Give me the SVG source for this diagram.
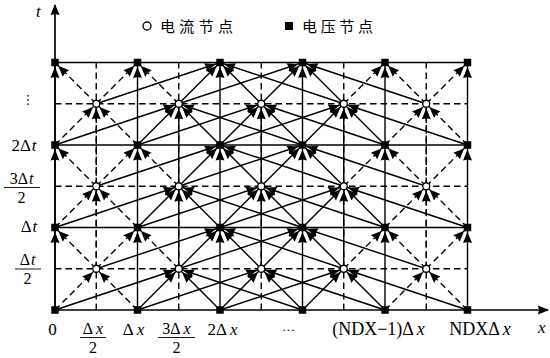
<svg xmlns="http://www.w3.org/2000/svg" width="550" height="358" viewBox="0 0 550 358">
<style>
.s{stroke:#000;stroke-width:1.4;fill:none;marker-end:url(#ah)}
.d{stroke:#000;stroke-width:1.4;fill:none;stroke-dasharray:6.5,4;marker-end:url(#ah)}
.gd{stroke:#000;stroke-width:1.4;fill:none;stroke-dasharray:6.5,4}
.gs{stroke:#000;stroke-width:1.4;fill:none}
.ax{stroke:#000;stroke-width:1.7;fill:none;marker-end:url(#axh)}
.v{fill:#000}
.i{fill:#fff;stroke:#000;stroke-width:1.3}
.m{font-family:"Liberation Serif","DejaVu Serif",serif;font-size:17px;fill:#000}
.f{font-size:16px}
.it{font-style:italic}
.cn{font-family:"Noto Sans CJK SC",sans-serif;font-size:15px;fill:#000}
</style>
<defs>
<marker id="ah" viewBox="0 0 11 9" markerWidth="11" markerHeight="9" refX="15.5" refY="4.5" orient="auto" markerUnits="userSpaceOnUse" overflow="visible">
<path d="M0,0 L11,4.5 L0,9 L1,4.5 z" fill="#000"/>
</marker>
<marker id="axh" viewBox="0 0 11 9" markerWidth="11" markerHeight="9" refX="10" refY="4.5" orient="auto" markerUnits="userSpaceOnUse" overflow="visible">
<path d="M0,0 L11,4.5 L0,9 L1,4.5 z" fill="#000"/>
</marker>
</defs>
<g id="grid">
<line class="gd" x1="55" y1="268.75" x2="467.5" y2="268.75"/>
<line class="gd" x1="55" y1="186.25" x2="467.5" y2="186.25"/>
<line class="gd" x1="55" y1="103.75" x2="467.5" y2="103.75"/>
<line class="gd" x1="96.25" y1="310" x2="96.25" y2="62.5"/>
<line class="gd" x1="178.75" y1="310" x2="178.75" y2="62.5"/>
<line class="gd" x1="261.25" y1="310" x2="261.25" y2="62.5"/>
<line class="gd" x1="343.75" y1="310" x2="343.75" y2="62.5"/>
<line class="gd" x1="426.25" y1="310" x2="426.25" y2="62.5"/>
<line class="gs" x1="55" y1="227.5" x2="467.5" y2="227.5"/>
<line class="gs" x1="55" y1="145" x2="467.5" y2="145"/>
<line class="gs" x1="55" y1="62.5" x2="467.5" y2="62.5"/>
</g>
<g id="axes">
<line class="ax" x1="55" y1="310" x2="55" y2="5"/>
<line class="ax" x1="55" y1="310" x2="548" y2="310"/>
</g>
<g id="connectors">
<line class="d" x1="55" y1="310" x2="96.25" y2="268.75"/>
<line class="d" x1="137.5" y1="310" x2="96.25" y2="268.75"/>
<line class="s" x1="55" y1="310" x2="178.75" y2="268.75"/>
<line class="s" x1="137.5" y1="310" x2="178.75" y2="268.75"/>
<line class="s" x1="220" y1="310" x2="178.75" y2="268.75"/>
<line class="s" x1="302.5" y1="310" x2="178.75" y2="268.75"/>
<line class="s" x1="137.5" y1="310" x2="261.25" y2="268.75"/>
<line class="s" x1="220" y1="310" x2="261.25" y2="268.75"/>
<line class="s" x1="302.5" y1="310" x2="261.25" y2="268.75"/>
<line class="s" x1="385" y1="310" x2="261.25" y2="268.75"/>
<line class="s" x1="220" y1="310" x2="343.75" y2="268.75"/>
<line class="s" x1="302.5" y1="310" x2="343.75" y2="268.75"/>
<line class="s" x1="385" y1="310" x2="343.75" y2="268.75"/>
<line class="s" x1="467.5" y1="310" x2="343.75" y2="268.75"/>
<line class="d" x1="385" y1="310" x2="426.25" y2="268.75"/>
<line class="d" x1="467.5" y1="310" x2="426.25" y2="268.75"/>
<line class="s" x1="55" y1="310" x2="55" y2="227.5"/>
<line class="d" x1="96.25" y1="268.75" x2="55" y2="227.5"/>
<line class="s" x1="137.5" y1="310" x2="137.5" y2="227.5"/>
<line class="d" x1="96.25" y1="268.75" x2="137.5" y2="227.5"/>
<line class="d" x1="178.75" y1="268.75" x2="137.5" y2="227.5"/>
<line class="s" x1="220" y1="310" x2="220" y2="227.5"/>
<line class="s" x1="96.25" y1="268.75" x2="220" y2="227.5"/>
<line class="s" x1="178.75" y1="268.75" x2="220" y2="227.5"/>
<line class="s" x1="261.25" y1="268.75" x2="220" y2="227.5"/>
<line class="s" x1="343.75" y1="268.75" x2="220" y2="227.5"/>
<line class="s" x1="302.5" y1="310" x2="302.5" y2="227.5"/>
<line class="s" x1="178.75" y1="268.75" x2="302.5" y2="227.5"/>
<line class="s" x1="261.25" y1="268.75" x2="302.5" y2="227.5"/>
<line class="s" x1="343.75" y1="268.75" x2="302.5" y2="227.5"/>
<line class="s" x1="426.25" y1="268.75" x2="302.5" y2="227.5"/>
<line class="s" x1="385" y1="310" x2="385" y2="227.5"/>
<line class="d" x1="343.75" y1="268.75" x2="385" y2="227.5"/>
<line class="d" x1="426.25" y1="268.75" x2="385" y2="227.5"/>
<line class="s" x1="467.5" y1="310" x2="467.5" y2="227.5"/>
<line class="d" x1="426.25" y1="268.75" x2="467.5" y2="227.5"/>
<line class="d" x1="96.25" y1="268.75" x2="96.25" y2="186.25"/>
<line class="s" x1="178.75" y1="268.75" x2="178.75" y2="186.25"/>
<line class="s" x1="261.25" y1="268.75" x2="261.25" y2="186.25"/>
<line class="s" x1="343.75" y1="268.75" x2="343.75" y2="186.25"/>
<line class="d" x1="426.25" y1="268.75" x2="426.25" y2="186.25"/>
<line class="d" x1="55" y1="227.5" x2="96.25" y2="186.25"/>
<line class="d" x1="137.5" y1="227.5" x2="96.25" y2="186.25"/>
<line class="s" x1="55" y1="227.5" x2="178.75" y2="186.25"/>
<line class="s" x1="137.5" y1="227.5" x2="178.75" y2="186.25"/>
<line class="s" x1="220" y1="227.5" x2="178.75" y2="186.25"/>
<line class="s" x1="302.5" y1="227.5" x2="178.75" y2="186.25"/>
<line class="s" x1="137.5" y1="227.5" x2="261.25" y2="186.25"/>
<line class="s" x1="220" y1="227.5" x2="261.25" y2="186.25"/>
<line class="s" x1="302.5" y1="227.5" x2="261.25" y2="186.25"/>
<line class="s" x1="385" y1="227.5" x2="261.25" y2="186.25"/>
<line class="s" x1="220" y1="227.5" x2="343.75" y2="186.25"/>
<line class="s" x1="302.5" y1="227.5" x2="343.75" y2="186.25"/>
<line class="s" x1="385" y1="227.5" x2="343.75" y2="186.25"/>
<line class="s" x1="467.5" y1="227.5" x2="343.75" y2="186.25"/>
<line class="d" x1="385" y1="227.5" x2="426.25" y2="186.25"/>
<line class="d" x1="467.5" y1="227.5" x2="426.25" y2="186.25"/>
<line class="s" x1="55" y1="227.5" x2="55" y2="145"/>
<line class="d" x1="96.25" y1="186.25" x2="55" y2="145"/>
<line class="s" x1="137.5" y1="227.5" x2="137.5" y2="145"/>
<line class="d" x1="96.25" y1="186.25" x2="137.5" y2="145"/>
<line class="d" x1="178.75" y1="186.25" x2="137.5" y2="145"/>
<line class="s" x1="220" y1="227.5" x2="220" y2="145"/>
<line class="s" x1="96.25" y1="186.25" x2="220" y2="145"/>
<line class="s" x1="178.75" y1="186.25" x2="220" y2="145"/>
<line class="s" x1="261.25" y1="186.25" x2="220" y2="145"/>
<line class="s" x1="343.75" y1="186.25" x2="220" y2="145"/>
<line class="s" x1="302.5" y1="227.5" x2="302.5" y2="145"/>
<line class="s" x1="178.75" y1="186.25" x2="302.5" y2="145"/>
<line class="s" x1="261.25" y1="186.25" x2="302.5" y2="145"/>
<line class="s" x1="343.75" y1="186.25" x2="302.5" y2="145"/>
<line class="s" x1="426.25" y1="186.25" x2="302.5" y2="145"/>
<line class="s" x1="385" y1="227.5" x2="385" y2="145"/>
<line class="d" x1="343.75" y1="186.25" x2="385" y2="145"/>
<line class="d" x1="426.25" y1="186.25" x2="385" y2="145"/>
<line class="s" x1="467.5" y1="227.5" x2="467.5" y2="145"/>
<line class="d" x1="426.25" y1="186.25" x2="467.5" y2="145"/>
<line class="d" x1="96.25" y1="186.25" x2="96.25" y2="103.75"/>
<line class="s" x1="178.75" y1="186.25" x2="178.75" y2="103.75"/>
<line class="s" x1="261.25" y1="186.25" x2="261.25" y2="103.75"/>
<line class="s" x1="343.75" y1="186.25" x2="343.75" y2="103.75"/>
<line class="d" x1="426.25" y1="186.25" x2="426.25" y2="103.75"/>
<line class="d" x1="55" y1="145" x2="96.25" y2="103.75"/>
<line class="d" x1="137.5" y1="145" x2="96.25" y2="103.75"/>
<line class="s" x1="55" y1="145" x2="178.75" y2="103.75"/>
<line class="s" x1="137.5" y1="145" x2="178.75" y2="103.75"/>
<line class="s" x1="220" y1="145" x2="178.75" y2="103.75"/>
<line class="s" x1="302.5" y1="145" x2="178.75" y2="103.75"/>
<line class="s" x1="137.5" y1="145" x2="261.25" y2="103.75"/>
<line class="s" x1="220" y1="145" x2="261.25" y2="103.75"/>
<line class="s" x1="302.5" y1="145" x2="261.25" y2="103.75"/>
<line class="s" x1="385" y1="145" x2="261.25" y2="103.75"/>
<line class="s" x1="220" y1="145" x2="343.75" y2="103.75"/>
<line class="s" x1="302.5" y1="145" x2="343.75" y2="103.75"/>
<line class="s" x1="385" y1="145" x2="343.75" y2="103.75"/>
<line class="s" x1="467.5" y1="145" x2="343.75" y2="103.75"/>
<line class="d" x1="385" y1="145" x2="426.25" y2="103.75"/>
<line class="d" x1="467.5" y1="145" x2="426.25" y2="103.75"/>
<line class="s" x1="55" y1="145" x2="55" y2="62.5"/>
<line class="d" x1="96.25" y1="103.75" x2="55" y2="62.5"/>
<line class="s" x1="137.5" y1="145" x2="137.5" y2="62.5"/>
<line class="d" x1="96.25" y1="103.75" x2="137.5" y2="62.5"/>
<line class="d" x1="178.75" y1="103.75" x2="137.5" y2="62.5"/>
<line class="s" x1="220" y1="145" x2="220" y2="62.5"/>
<line class="s" x1="96.25" y1="103.75" x2="220" y2="62.5"/>
<line class="s" x1="178.75" y1="103.75" x2="220" y2="62.5"/>
<line class="s" x1="261.25" y1="103.75" x2="220" y2="62.5"/>
<line class="s" x1="343.75" y1="103.75" x2="220" y2="62.5"/>
<line class="s" x1="302.5" y1="145" x2="302.5" y2="62.5"/>
<line class="s" x1="178.75" y1="103.75" x2="302.5" y2="62.5"/>
<line class="s" x1="261.25" y1="103.75" x2="302.5" y2="62.5"/>
<line class="s" x1="343.75" y1="103.75" x2="302.5" y2="62.5"/>
<line class="s" x1="426.25" y1="103.75" x2="302.5" y2="62.5"/>
<line class="s" x1="385" y1="145" x2="385" y2="62.5"/>
<line class="d" x1="343.75" y1="103.75" x2="385" y2="62.5"/>
<line class="d" x1="426.25" y1="103.75" x2="385" y2="62.5"/>
<line class="s" x1="467.5" y1="145" x2="467.5" y2="62.5"/>
<line class="d" x1="426.25" y1="103.75" x2="467.5" y2="62.5"/>
</g>
<g id="voltage-nodes">
<g id="V0_0"><rect class="v" x="51.25" y="306.25" width="7.5" height="7.5"/></g>
<g id="V1_0"><rect class="v" x="133.75" y="306.25" width="7.5" height="7.5"/></g>
<g id="V2_0"><rect class="v" x="216.25" y="306.25" width="7.5" height="7.5"/></g>
<g id="V3_0"><rect class="v" x="298.75" y="306.25" width="7.5" height="7.5"/></g>
<g id="V4_0"><rect class="v" x="381.25" y="306.25" width="7.5" height="7.5"/></g>
<g id="V5_0"><rect class="v" x="463.75" y="306.25" width="7.5" height="7.5"/></g>
<g id="V0_1"><rect class="v" x="51.25" y="223.75" width="7.5" height="7.5"/></g>
<g id="V1_1"><rect class="v" x="133.75" y="223.75" width="7.5" height="7.5"/></g>
<g id="V2_1"><rect class="v" x="216.25" y="223.75" width="7.5" height="7.5"/></g>
<g id="V3_1"><rect class="v" x="298.75" y="223.75" width="7.5" height="7.5"/></g>
<g id="V4_1"><rect class="v" x="381.25" y="223.75" width="7.5" height="7.5"/></g>
<g id="V5_1"><rect class="v" x="463.75" y="223.75" width="7.5" height="7.5"/></g>
<g id="V0_2"><rect class="v" x="51.25" y="141.25" width="7.5" height="7.5"/></g>
<g id="V1_2"><rect class="v" x="133.75" y="141.25" width="7.5" height="7.5"/></g>
<g id="V2_2"><rect class="v" x="216.25" y="141.25" width="7.5" height="7.5"/></g>
<g id="V3_2"><rect class="v" x="298.75" y="141.25" width="7.5" height="7.5"/></g>
<g id="V4_2"><rect class="v" x="381.25" y="141.25" width="7.5" height="7.5"/></g>
<g id="V5_2"><rect class="v" x="463.75" y="141.25" width="7.5" height="7.5"/></g>
<g id="V0_3"><rect class="v" x="51.25" y="58.75" width="7.5" height="7.5"/></g>
<g id="V1_3"><rect class="v" x="133.75" y="58.75" width="7.5" height="7.5"/></g>
<g id="V2_3"><rect class="v" x="216.25" y="58.75" width="7.5" height="7.5"/></g>
<g id="V3_3"><rect class="v" x="298.75" y="58.75" width="7.5" height="7.5"/></g>
<g id="V4_3"><rect class="v" x="381.25" y="58.75" width="7.5" height="7.5"/></g>
<g id="V5_3"><rect class="v" x="463.75" y="58.75" width="7.5" height="7.5"/></g>
</g>
<g id="current-nodes">
<g id="I0_0"><circle class="i" cx="96.25" cy="268.75" r="3.5"/></g>
<g id="I1_0"><circle class="i" cx="178.75" cy="268.75" r="3.5"/></g>
<g id="I2_0"><circle class="i" cx="261.25" cy="268.75" r="3.5"/></g>
<g id="I3_0"><circle class="i" cx="343.75" cy="268.75" r="3.5"/></g>
<g id="I4_0"><circle class="i" cx="426.25" cy="268.75" r="3.5"/></g>
<g id="I0_1"><circle class="i" cx="96.25" cy="186.25" r="3.5"/></g>
<g id="I1_1"><circle class="i" cx="178.75" cy="186.25" r="3.5"/></g>
<g id="I2_1"><circle class="i" cx="261.25" cy="186.25" r="3.5"/></g>
<g id="I3_1"><circle class="i" cx="343.75" cy="186.25" r="3.5"/></g>
<g id="I4_1"><circle class="i" cx="426.25" cy="186.25" r="3.5"/></g>
<g id="I0_2"><circle class="i" cx="96.25" cy="103.75" r="3.5"/></g>
<g id="I1_2"><circle class="i" cx="178.75" cy="103.75" r="3.5"/></g>
<g id="I2_2"><circle class="i" cx="261.25" cy="103.75" r="3.5"/></g>
<g id="I3_2"><circle class="i" cx="343.75" cy="103.75" r="3.5"/></g>
<g id="I4_2"><circle class="i" cx="426.25" cy="103.75" r="3.5"/></g>
</g>
<g id="legend">
<circle class="i" cx="147" cy="26" r="4"/>
<text class="cn" x="160" y="32" textLength="73" lengthAdjust="spacing">电流节点</text>
<rect class="v" x="285" y="22" width="8" height="8"/>
<text class="cn" x="302" y="32" textLength="71" lengthAdjust="spacing">电压节点</text>
</g>
<g id="labels" class="m">
<text x="36" y="17" class="it">t</text>
<text x="538" y="333" class="it">x</text>
<text x="52.5" y="335" text-anchor="middle">0</text>
<text x="93" y="333.5" text-anchor="middle" class="f">Δ<tspan class="it" dx="3">x</tspan></text>
<line x1="80" y1="337.5" x2="106" y2="337.5" stroke="#000" stroke-width="0.9"/>
<text x="93" y="353" text-anchor="middle" class="f">2</text>
<text x="133.5" y="335" text-anchor="middle">Δ<tspan class="it" dx="3">x</tspan></text>
<text x="176.5" y="333.5" text-anchor="middle" class="f">3Δ<tspan class="it" dx="3">x</tspan></text>
<line x1="158" y1="337.5" x2="195" y2="337.5" stroke="#000" stroke-width="0.9"/>
<text x="176.5" y="353" text-anchor="middle" class="f">2</text>
<text x="222.5" y="335" text-anchor="middle">2Δ<tspan class="it" dx="3">x</tspan></text>
<text x="288.5" y="334" text-anchor="middle" font-size="13">···</text>
<text x="378.5" y="335" text-anchor="middle" font-size="18">(NDX−1)Δ<tspan class="it" dx="3">x</tspan></text>
<text x="480" y="335" text-anchor="middle" font-size="18">NDXΔ<tspan class="it" dx="3">x</tspan></text>
<text x="28" y="104" text-anchor="middle" font-family="DejaVu Sans" font-size="13">⋮</text>
<text x="24" y="151" text-anchor="middle">2Δ<tspan class="it" dx="1">t</tspan></text>
<text x="21.5" y="184" text-anchor="middle" class="f">3Δ<tspan class="it" dx="1">t</tspan></text>
<line x1="4" y1="187.5" x2="40" y2="187.5" stroke="#000" stroke-width="0.9"/>
<text x="21.5" y="203" text-anchor="middle" class="f">2</text>
<text x="29" y="232" text-anchor="middle">Δ<tspan class="it" dx="1">t</tspan></text>
<text x="27.5" y="265" text-anchor="middle" class="f">Δ<tspan class="it" dx="1">t</tspan></text>
<line x1="15" y1="269" x2="41" y2="269" stroke="#000" stroke-width="0.9"/>
<text x="27.5" y="284" text-anchor="middle" class="f">2</text>
</g>
</svg>
